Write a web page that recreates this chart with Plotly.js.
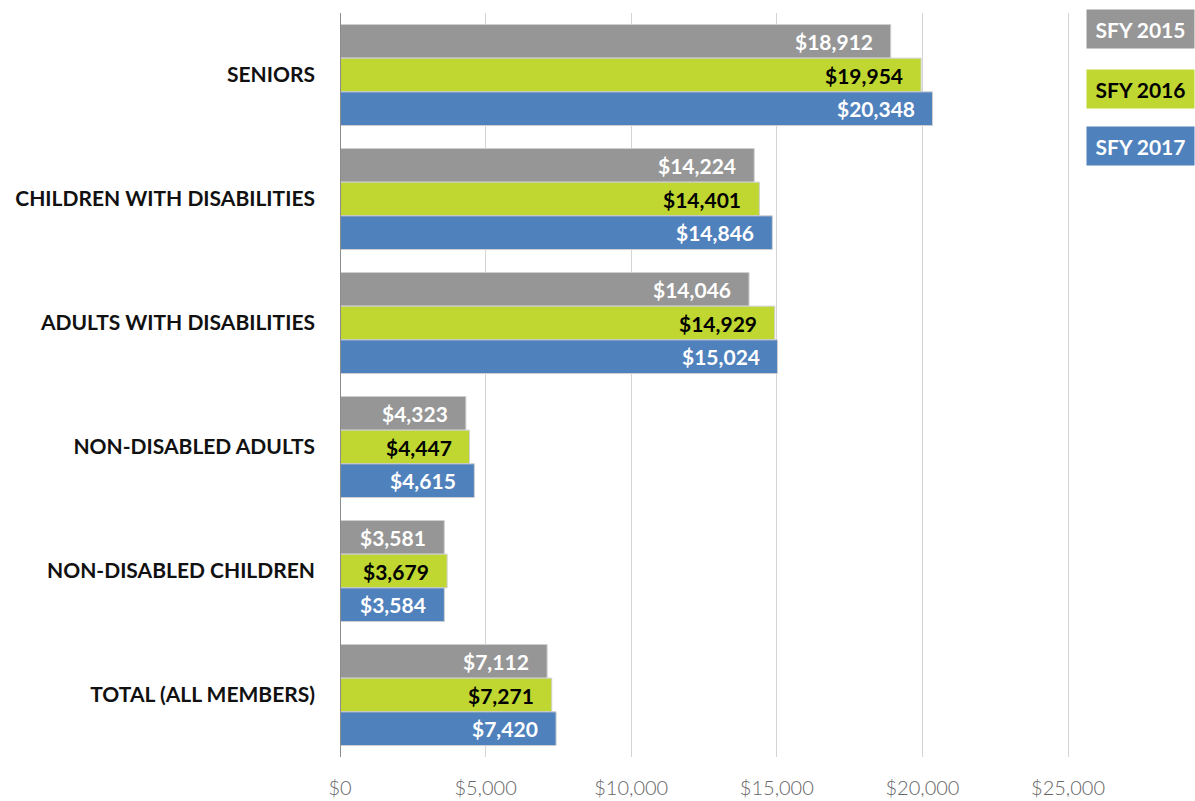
<!DOCTYPE html>
<html><head><meta charset="utf-8">
<script src="https://cdn.plot.ly/plotly-3.0.1.min.js"></script>
<style>html,body{margin:0;padding:0;background:#fff}#chart{width:1195px;height:801px}</style>
</head><body><div id="chart"></div>
<script>
var categories = ["SENIORS","CHILDREN WITH DISABILITIES","ADULTS WITH DISABILITIES","NON-DISABLED ADULTS","NON-DISABLED CHILDREN","TOTAL (ALL MEMBERS)"];
var seriesNames = ["SFY 2015","SFY 2016","SFY 2017"];
var sfy2015 = [18912,14224,14046,4323,3581,7112];
var sfy2016 = [19954,14401,14929,4447,3679,7271];
var sfy2017 = [20348,14846,15024,4615,3584,7420];
var tickVals = [0,5000,10000,15000,20000,25000];
var tickText = ["$0","$5,000","$10,000","$15,000","$20,000","$25,000"];

var colors = ["#969696","#bfd730","#4f81bd"];
var textColors = ["#ffffff","#000000","#ffffff"];
var allVals = [sfy2015, sfy2016, sfy2017];
var FONT = "Lato, 'Open Sans', sans-serif";

var traces = allVals.map(function(vals,i){
  return {
    type:"bar", orientation:"h", name:seriesNames[i],
    y:categories, x:vals,
    marker:{color:colors[i], line:{color:"#d0d0d0", width:1}},
    textposition:"none", hoverinfo:"skip"
  };
});

function fmt(v){ return "$" + v.toLocaleString("en-US"); }

var annotations = [];
var yShifts = [33.7, 0, -33.7];
allVals.forEach(function(vals,i){
  vals.forEach(function(v,j){
    annotations.push({
      xref:"x", yref:"y", x:v, y:categories[j], xanchor:"right", yanchor:"middle",
      xshift:-16, yshift:yShifts[i], text:fmt(v), showarrow:false,
      font:{family:FONT, size:21, color:textColors[i], weight:700}
    });
  });
});
var legendY = [0.9785, 0.8985, 0.8206];
seriesNames.forEach(function(n,i){
  annotations.push({
    xref:"paper", yref:"paper", x:1, xanchor:"right",
    y:legendY[i], yanchor:"middle",
    text:n, showarrow:false, align:"center",
    bgcolor:colors[i], width:101, height:32, borderpad:3,
    font:{family:FONT, size:21, color:textColors[i], weight:700}
  });
});

var layout = {
  width:1195, height:801,
  margin:{l:340, r:0, t:13, b:44},
  paper_bgcolor:"#fff", plot_bgcolor:"#fff",
  barmode:"group", bargap:0.185, bargroupgap:0,
  showlegend:false,
  xaxis:{range:[0,29360], tickvals:tickVals, ticktext:tickText,
    showgrid:true, gridcolor:"#d4d4d4", gridwidth:1, zeroline:false,
    showline:false, ticks:"", ticklabelstandoff:17,
    tickfont:{family:FONT, size:20, color:"#666666", weight:300}},
  yaxis:{autorange:"reversed", showgrid:false, zeroline:false,
    showline:false, ticks:"", ticklabelstandoff:24,
    tickfont:{family:FONT, size:21, color:"#111", weight:700}},
  shapes:[{type:"line", xref:"x", yref:"paper", x0:0, x1:0, y0:0, y1:1,
    line:{color:"#8c8c8c", width:2}}],
  annotations:annotations
};
Plotly.newPlot("chart", traces, layout, {displayModeBar:false, staticPlot:true});
</script></body></html>
